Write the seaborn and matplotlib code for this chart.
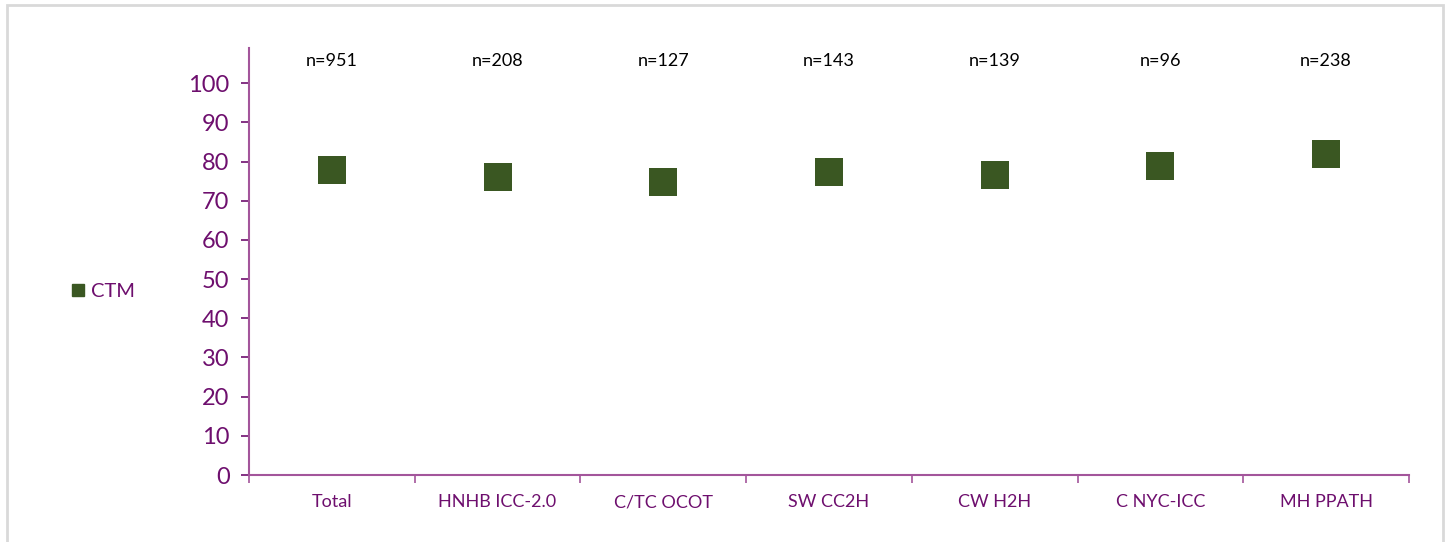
import pandas as pd
import matplotlib.pyplot as plt
import seaborn as sns
from matplotlib.lines import Line2D
from matplotlib.patches import Rectangle

groups = ['Total', 'HNHB ICC-2.0', 'C/TC OCOT', 'SW CC2H', 'CW H2H', 'C NYC-ICC', 'MH PPATH']
ctm = [77.9, 76.1, 74.7, 77.3, 76.5, 79.0, 82.0]
n_labels = ['n=951', 'n=208', 'n=127', 'n=143', 'n=139', 'n=96', 'n=238']
y_ticks = list(range(0, 101, 10))

purple = '#6E0F6E'
spine_purple = '#A3559B'
green = '#3A5722'

sns.set_style('white')
plt.rcParams['font.family'] = ['Lato', 'DejaVu Sans']

df = pd.DataFrame({'group': groups, 'CTM': ctm})

fig = plt.figure(figsize=(14.5, 5.42), dpi=100)
ax = fig.add_axes([0.1717, 0.1236, 0.8, 0.7878])

sns.scatterplot(data=df, x='group', y='CTM', marker='s', s=380, color=green,
                linewidth=0, legend=False, ax=ax, zorder=3)

ax.set_xlim(-0.5, len(groups) - 0.5)
ax.set_ylim(0, 109)
ax.set_xlabel('')
ax.set_ylabel('')

# boundary ticks like a category axis, labels centred in between
ax.set_xticks([i - 0.5 for i in range(len(groups) + 1)])
ax.set_xticklabels([])
ax.set_xticks(range(len(groups)), minor=True)
ax.set_xticklabels(groups, minor=True, fontsize=13, color=purple)
ax.tick_params(axis='x', which='minor', bottom=True, length=0, pad=14)
ax.tick_params(axis='x', which='major', bottom=True, length=6, width=1.2,
               color=spine_purple, direction='out')

ax.set_yticks(y_ticks)
ax.tick_params(axis='y', left=True, length=6, width=1.2, color=purple, direction='out',
               labelsize=17, labelcolor=purple, pad=8)

for side in ['top', 'right']:
    ax.spines[side].set_visible(False)
for side in ['left', 'bottom']:
    ax.spines[side].set_color(spine_purple)
    ax.spines[side].set_linewidth(1.5)

for i, lab in enumerate(n_labels):
    ax.text(i, 105.8, lab, ha='center', va='center', fontsize=13, color='black')

handle = Line2D([], [], marker='s', linestyle='none', color=green, markersize=9)
fig.legend([handle], ['CTM'], loc='center left', bbox_to_anchor=(0.036, 0.462),
           frameon=False, fontsize=14.5, labelcolor=purple, handletextpad=0.25,
           handlelength=0.8)

fig.patches.append(Rectangle((0.005, -0.05), 0.99, 1.041, transform=fig.transFigure,
                             fill=False, edgecolor='#D9D9D9', linewidth=2))

fig.savefig('out.png', dpi=100)
